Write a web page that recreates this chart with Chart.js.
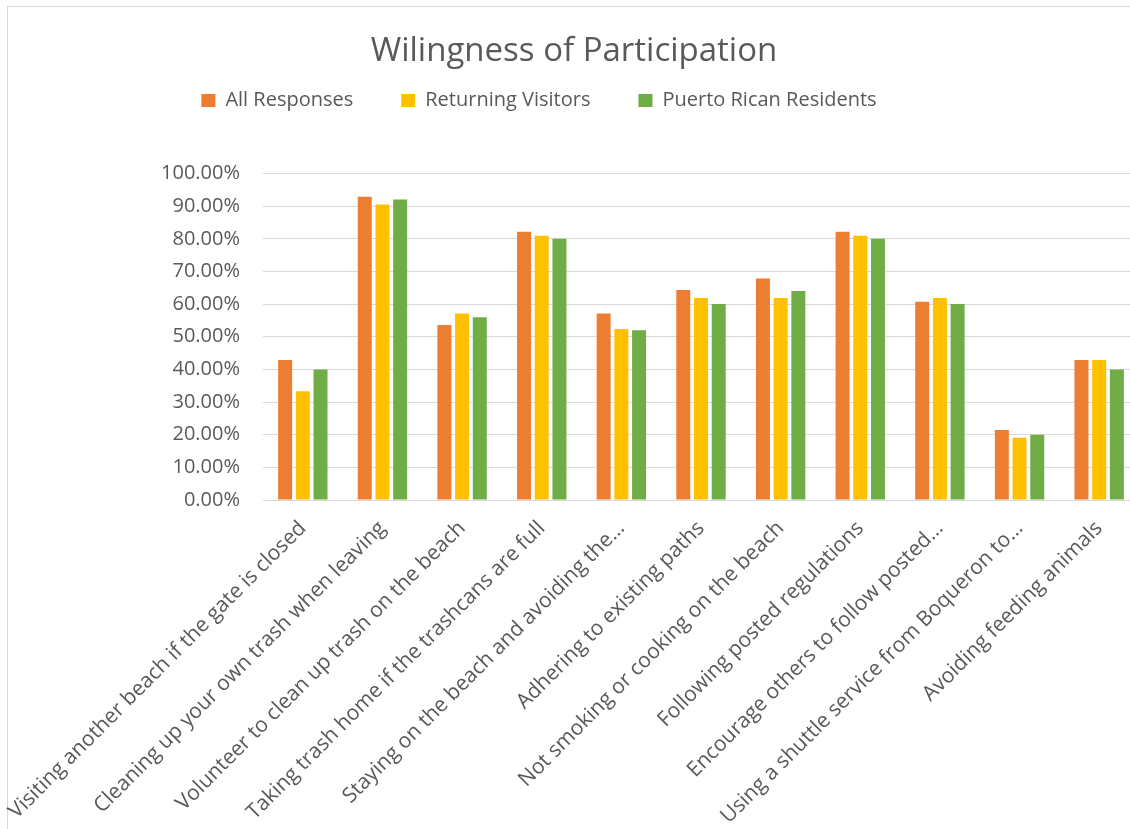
<!DOCTYPE html>
<html>
<head>
<meta charset="utf-8">
<title>Wilingness of Participation</title>
<script src="https://cdn.jsdelivr.net/npm/chart.js@4.4.1/dist/chart.umd.min.js"></script>
<style>
  body { margin: 0; background: #ffffff; overflow: hidden; }
  #wrap { position: relative; width: 1130px; height: 829px; overflow: hidden; }
  #frame { position: absolute; left: 7px; top: 6px; width: 1200px; height: 900px;
           border-top: 1px solid #d9d9d9; border-left: 1px solid #d9d9d9; }
  #myChart { position: absolute; left: 0; top: 0; }
</style>
</head>
<body>
<div id="wrap">
  <div id="frame"></div>
  <canvas id="myChart" width="1150" height="829"></canvas>
</div>
<script>
// categories (long ones are cut off in the original chart)
const categories = [
  "Visiting another beach if the gate is closed",
  "Cleaning up your own trash when leaving",
  "Volunteer to clean up trash on the beach",
  "Taking trash home if the trashcans are full",
  "Staying on the beach and avoiding the\u2026",
  "Adhering to existing paths",
  "Not smoking or cooking on the beach",
  "Following posted regulations",
  "Encourage others to follow posted\u2026",
  "Using a shuttle service from Boqueron to\u2026",
  "Avoiding feeding animals"
];

const seriesNames = ["All Responses", "Returning Visitors", "Puerto Rican Residents"];

// percent values
const allResponses = [42.86, 92.86, 53.57, 82.14, 57.14, 64.29, 67.86, 82.14, 60.71, 21.43, 42.86];
const returningVisitors = [33.33, 90.48, 57.14, 80.95, 52.38, 61.90, 61.90, 80.95, 61.90, 19.05, 42.86];
const prResidents = [40, 92, 56, 80, 52, 60, 64, 80, 60, 20, 40];

const colors = ["#ED7D31", "#FFC000", "#70AD47"];
const textColor = "#595959";
const gridColor = "#d9d9d9";
const fontFamily = "'Open Sans', Lato, sans-serif";

// legend sits a bit left of the title and close under it in the original
const legendShift = {
  id: "legendShift",
  afterLayout(chart) {
    const lg = chart.legend;
    lg.left -= 35; lg.right -= 35;
    lg.top -= 53; lg.bottom -= 53;
  }
};

function makeDataset(label, values, color) {
  return {
    label: label,
    data: values,
    backgroundColor: color,
    borderWidth: 0,
    categoryPercentage: 0.667,
    barPercentage: 0.79
  };
}

function initChart(target) {
  const data = {
    labels: categories,
    datasets: [
      makeDataset(seriesNames[0], allResponses, colors[0]),
      makeDataset(seriesNames[1], returningVisitors, colors[1]),
      makeDataset(seriesNames[2], prResidents, colors[2])
    ]
  };

  // legend box height = 20 + 48 + 10 = 78, so title box = 173.5 - 78
  const config = {
    type: "bar",
    data: data,
    options: {
      responsive: false,
      animation: false,
      devicePixelRatio: 1,
      layout: { padding: { left: 9, right: 11, top: 0, bottom: 0 } },
      plugins: {
        title: {
          display: true,
          text: "Wilingness of Participation",
          color: textColor,
          font: { family: fontFamily, size: 33, weight: "normal" },
          padding: { top: 32.2, bottom: 23.7 }
        },
        legend: {
          display: true,
          labels: {
            color: textColor,
            font: { family: fontFamily, size: 20 },
            boxWidth: 14,
            boxHeight: 13,
            padding: 48
          }
        },
        tooltip: { enabled: false }
      },
      scales: {
        x: {
          grid: { display: false },
          border: { display: true, color: gridColor, width: 1 },
          ticks: {
            color: textColor,
            font: { family: fontFamily, size: 21 },
            autoSkip: false,
            maxRotation: 45,
            minRotation: 45,
            padding: 8
          },
          afterFit(scale) {
            scale.height = 329;
            // long first label must not push the plot to the right
            scale.paddingLeft = 0;
            scale.paddingRight = 0;
          }
        },
        y: {
          min: 0,
          max: 100,
          grid: { color: gridColor, lineWidth: 1, drawTicks: false },
          border: { display: false },
          ticks: {
            stepSize: 10,
            color: textColor,
            font: { family: fontFamily, size: 20 },
            padding: 23,
            callback: (value) => value.toFixed(2) + "%"
          },
          afterFit(scale) { scale.width = 254; }
        }
      }
    },
    plugins: [legendShift]
  };

  return new Chart(target, config);
}

function mainEvent() {
  const chartTarget = document.querySelector("#myChart");
  const myChart = initChart(chartTarget);
  console.log("chart area", myChart.chartArea);
}
document.addEventListener("DOMContentLoaded", () => mainEvent());
</script>
</body>
</html>
